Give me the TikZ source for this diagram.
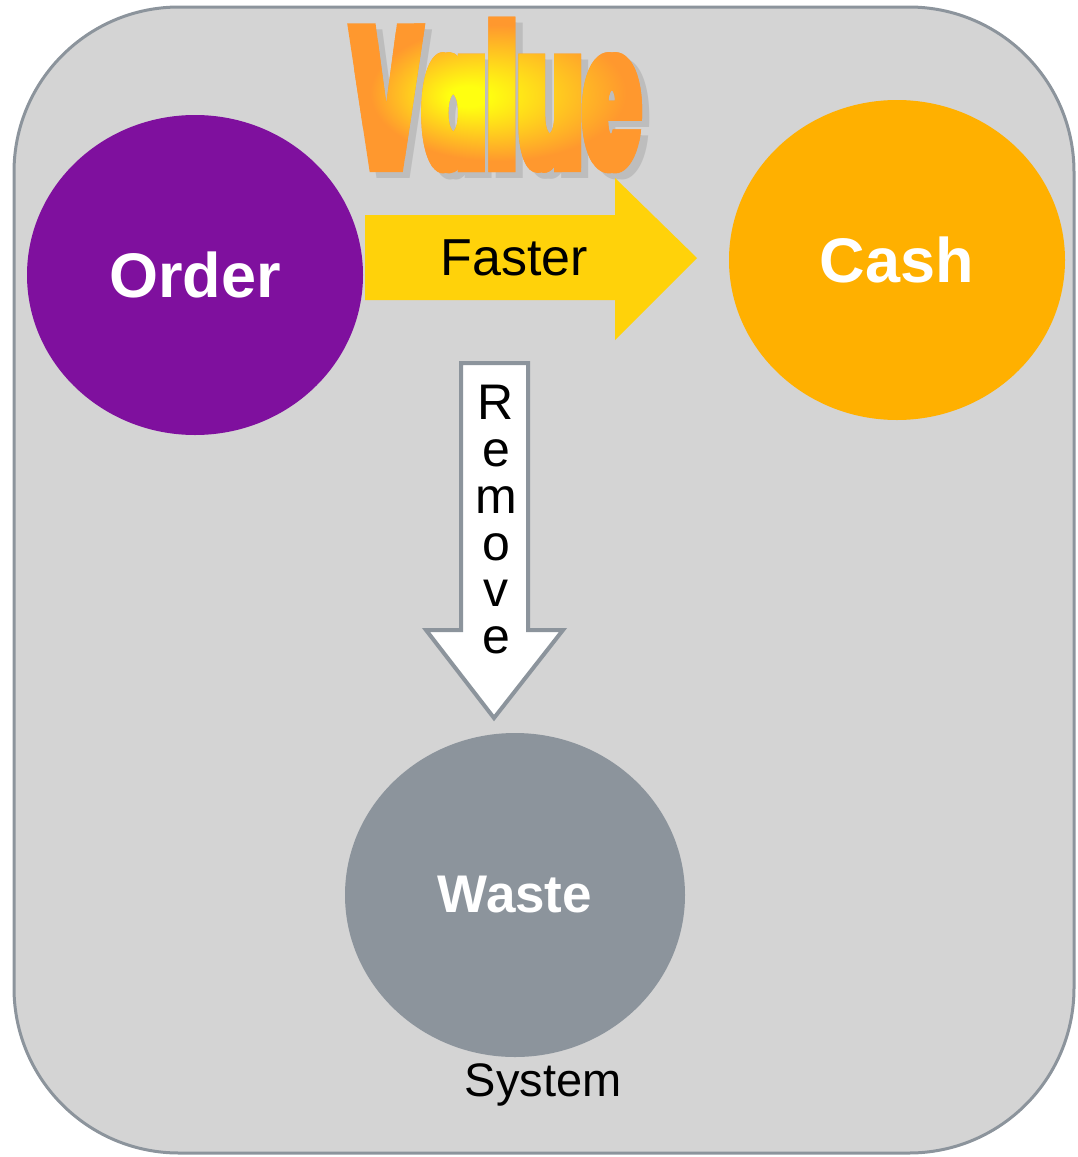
\documentclass[tikz,border=0pt]{standalone}
\usepackage{fontspec}
\setmainfont{Liberation Sans}
\IfFontExistsTF{Poppins Black}{%
  \newfontfamily\valuefont[FakeStretch=0.45]{Poppins Black}%
  \newcommand{\valuesize}{\fontsize{210}{210}\selectfont}%
  \newcommand{\valueword}{\rlap{Value}\kern6pt\rlap{Value}\kern-6pt}%
}{%
  \newfontfamily\valuefont[FakeStretch=0.53]{Liberation Sans Bold}%
  \newcommand{\valuesize}{\fontsize{209}{209}\selectfont}%
  \newcommand{\valueword}{\rlap{Value}\kern3.5pt\rlap{Value}\kern3.5pt\rlap{Value}\kern3.5pt\rlap{Value}\kern3.5pt\rlap{Value}\kern-14pt}%
}
\usetikzlibrary{shapes.geometric}
\definecolor{bgray}{HTML}{D4D4D4}
\definecolor{edgegray}{HTML}{8C949C}
\definecolor{orderc}{HTML}{7F109E}
\definecolor{cashc}{HTML}{FFB000}
\definecolor{wastec}{HTML}{8C949C}
\definecolor{fasterc}{HTML}{FFD20A}
\definecolor{vorange}{HTML}{FF982E}
\definecolor{vyellow}{HTML}{FFFF10}
\definecolor{vshadow}{HTML}{BDBDBD}
\pgfdeclareradialshading{valueshade}{\pgfpoint{-14bp}{-3bp}}{color(0bp)=(vyellow); color(6bp)=(vyellow); color(40bp)=(vorange); color(50bp)=(vorange)}
\makeatletter
\newcommand{\cliptexton}{\pgfsys@invoke{ q 7 Tr }}
\newcommand{\cliptextoff}{\pgfsys@invoke{ 0 Tr }}
\newcommand{\cliptextend}{\pgfsys@invoke{ Q }}
\makeatother
\newcommand{\valuefill}{\rlap{\raisebox{-5pt}{\color{vorange}\rule{320pt}{170pt}}}\raisebox{-5pt}{\resizebox{320pt}{170pt}{\pgfuseshading{valueshade}}}}
\tikzset{
  blob/.style={ellipse, inner sep=0pt, text=white, font=\bfseries},
  lbl/.style={inner sep=0pt, text=black},
  wordart/.style={inner sep=0pt, anchor=base west, font=\valuefont\valuesize},
}
\begin{document}
\begin{tikzpicture}[x=1pt,y=-1pt]
\useasboundingbox (0,0) rectangle (1078,1157);
% system frame
\draw[fill=bgray, draw=edgegray, line width=3pt, rounded corners=165pt] (14,7) rectangle (1074,1153);
% Value title: grey shadow, then the word clipped over a radial gradient
\node[wordart, text=vshadow] (valueshadow) at (354,178) {\valueword};
\node[wordart] (value) at (347,172) {\cliptexton\valueword\cliptextoff\valuefill\cliptextend};
% ellipses
\node[blob, fill=orderc, minimum width=336pt, minimum height=320pt, font=\fontsize{63}{63}\bfseries\selectfont] (order) at (195,275) {Order};
\node[blob, fill=cashc, minimum width=336pt, minimum height=320pt, font=\fontsize{63}{63}\bfseries\selectfont] (cash) at (897,260) {Cash};
\node[blob, fill=wastec, minimum width=340pt, minimum height=324pt, font=\fontsize{53}{53}\bfseries\selectfont] (waste) at (515,895) {Waste};
% Faster arrow
\fill[fasterc] (365,215) -- (615,215) -- (615,178) -- (697,258) -- (615,340) -- (615,300) -- (365,300) -- cycle;
\node[lbl, font=\fontsize{52}{52}\selectfont] (faster) at (514,258) {Faster};
% Remove arrow
\draw[fill=white, draw=edgegray, line width=4pt, line join=miter] (461,363) -- (528,363) -- (528,630) -- (563,630) -- (494,718) -- (426,630) -- (461,630) -- cycle;
\node[lbl, anchor=north, align=center, font=\fontsize{50}{46.8}\selectfont] (remove) at (496,385) {R\\e\\m\\o\\v\\e};
% System label
\node[lbl, anchor=base, font=\fontsize{47}{47}\selectfont] (system) at (543,1096) {System};
\end{tikzpicture}
\end{document}
